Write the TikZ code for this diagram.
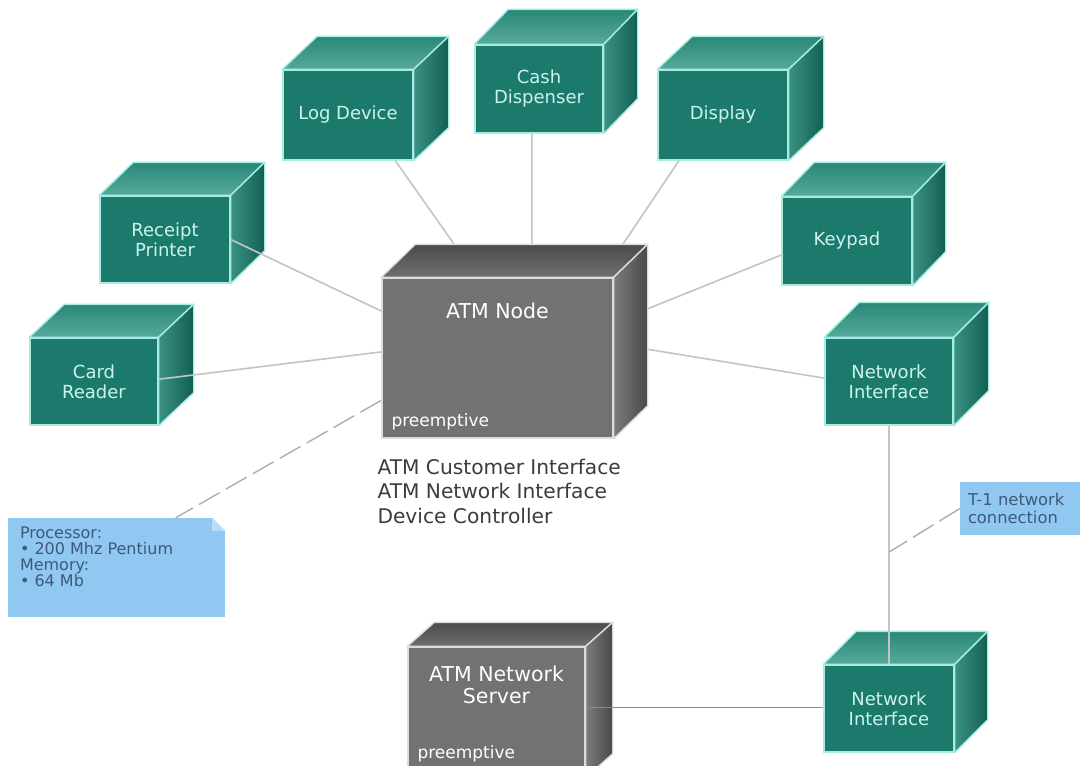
\documentclass[tikz,border=0pt]{standalone}
\usepackage{fontspec}
\setmainfont{DejaVu Sans}
\usepackage{xcolor}
\usepackage{tikz}
\usetikzlibrary{calc,positioning}
\pgfdeclarelayer{front}
\pgfsetlayers{main,front}

\definecolor{tealfront}{HTML}{1B7A6C}
\definecolor{tealtopback}{HTML}{2A8777}
\definecolor{tealtopfront}{HTML}{56AA9B}
\definecolor{tealsidefront}{HTML}{3A9282}
\definecolor{tealsideback}{HTML}{125F53}
\definecolor{tealedge}{HTML}{A6ECE2}
\definecolor{teallabel}{HTML}{CBF3EC}
\definecolor{grayfront}{HTML}{727272}
\definecolor{graytopback}{HTML}{4A4A4A}
\definecolor{graytopfront}{HTML}{707070}
\definecolor{graysidefront}{HTML}{7C7C7C}
\definecolor{graysideback}{HTML}{484848}
\definecolor{grayedge}{HTML}{DCDCDC}
\definecolor{linkgray}{HTML}{C4C4C4}
\definecolor{serverlink}{HTML}{8A8A8A}
\definecolor{dashgray}{HTML}{ADADAD}
\definecolor{notefill}{HTML}{90C8F2}
\definecolor{notefold}{HTML}{BCDDF6}
\definecolor{noteink}{HTML}{3D5A78}
\definecolor{partsink}{HTML}{3C3C3C}

% top and side faces of a box whose front face is node #1
\newcommand{\boxfaces}[4]{%
  \path[draw=#4edge, line width=1.4pt, line join=round,
        top color=#4topback, bottom color=#4topfront]
    (#1.north west) -- ++(#2,-#3) -- ($(#1.north east)+(#2,-#3)$)
    -- (#1.north east) -- cycle;
  \path[draw=#4edge, line width=1.4pt, line join=round,
        left color=#4sidefront, right color=#4sideback]
    (#1.north east) -- ++(#2,-#3) -- ($(#1.south east)+(#2,-#3)$)
    -- (#1.south east) -- cycle;
}

\begin{document}
\begin{tikzpicture}[x=1pt,y=-1pt,
  tealbox/.style={draw=tealedge, fill=tealfront, line width=1.4pt, inner sep=0pt,
    text=teallabel, align=center, font=\fontsize{18}{20}\selectfont},
  graybox/.style={draw=grayedge, fill=grayfront, line width=1.4pt, inner sep=0pt},
  graytitle/.style={text=white, align=center, font=\fontsize{20.5}{22}\selectfont},
  graytag/.style={text=white, anchor=west, inner sep=0pt, font=\fontsize{17}{19}\selectfont},
  link/.style={draw=linkgray, line width=1.6pt},
  notelink/.style={draw=dashgray, line width=1.4pt, dash pattern=on 24pt off 7pt},
  notebox/.style={fill=notefill},
  notetext/.style={text=noteink, align=left, inner sep=0pt, font=\fontsize{16}{15.8}\selectfont},
  partstext/.style={text=partsink, align=left, inner sep=0pt, font=\fontsize{20.2}{24.5}\selectfont}]
		\useasboundingbox (0,0) rectangle (1088,766);
		\clip (0,0) rectangle (1088,766);
		\fill[white] (0,0) rectangle (1088,766);
		%
		% notes
		\node[notebox, minimum width=217, minimum height=99] (spec) at (116.5,567.5) {};
		\fill[white] (spec.north east) -- ++(-13,0) -- ++(13,13) -- cycle;
		\fill[notefold] ($(spec.north east)+(-13,0)$) -- ++(0,13) -- ++(13,0) -- cycle;
		\node[notetext, anchor=north west] (spectext) at ($(spec.north west)+(12,9)$)
			{Processor:\\• 200 Mhz Pentium\\Memory:\\• 64 Mb};
		\node[notebox, notetext, text width=104, inner xsep=8, minimum height=53,
			font=\fontsize{16.3}{18}\selectfont] (t1note) at (1020,508.5) {T-1 network\\connection};
		%
		% devices
		\node[tealbox, minimum width=128, minimum height=87] (card) at (94,381.5) {Card\\Reader};
		\boxfaces{card}{35}{33}{teal}
		\node[tealbox, minimum width=130, minimum height=87] (receipt) at (165,239.5) {Receipt\\Printer};
		\boxfaces{receipt}{34}{33}{teal}
		\node[tealbox, minimum width=130, minimum height=90] (log) at (348,115) {Log Device};
		\boxfaces{log}{35}{33}{teal}
		\node[tealbox, minimum width=128, minimum height=88] (cash) at (539,89) {Cash\\Dispenser};
		\boxfaces{cash}{34}{35}{teal}
		\node[tealbox, minimum width=130, minimum height=90] (disp) at (723,115) {Display};
		\boxfaces{disp}{35}{33}{teal}
		\node[tealbox, minimum width=130, minimum height=88] (key) at (847,241) {Keypad};
		\boxfaces{key}{33}{34}{teal}
		\node[tealbox, minimum width=128, minimum height=87] (net1) at (889,381.5) {Network\\Interface};
		\boxfaces{net1}{35}{35}{teal}
		\node[tealbox, minimum width=130, minimum height=87] (net2) at (889,708.5) {Network\\Interface};
		\boxfaces{net2}{33}{33}{teal}
		%
		\node[graybox, minimum width=177, minimum height=130] (server) at (496.5,712) {};
		\boxfaces{server}{27}{24}{gray}
		\node[graytitle] (servertitle) at ($(server.north)+(0,39)$) {ATM Network\\Server};
		\node[graytag] (servertag) at ($(server.north west)+(10,108)$) {preemptive};
		%
		\begin{pgfonlayer}{front}
		\node[graybox, minimum width=231, minimum height=160] (atm) at (497.5,358) {};
		\boxfaces{atm}{34}{33}{gray}
		\node[graytitle] (atmtitle) at ($(atm.north)+(0,34)$) {ATM Node};
		\node[graytag] (atmtag) at ($(atm.south west)+(10,-17)$) {preemptive};
		\end{pgfonlayer}
		\node[partstext, anchor=north west] (atmparts) at ($(atm.south west)+(-4,20)$)
			{ATM Customer Interface\\ATM Network Interface\\Device Controller};
		%
		% connections
		\coordinate (t1foot) at ($(net1.south)!0.53!(net2.north)$);
		\path[link]
		(card.2) edge (atm.177)
		(receipt.east) edge (atm.158)
		(log.-44) edge (atm.104)
		(cash.-99) edge (atm.67)
		(disp.-134) edge (atm.38)
		(key.192) edge (atm.17)
		(net1.177) edge (atm.7)
		(net1.south) edge (net2.north);
		\draw[link, draw=serverlink] (server.3) -- (server.3 -| net2.west);
		\path[notelink]
		(atm.200) edge (spec.40)
		(t1note.west) edge (t1foot);
		\end{tikzpicture}
\end{document}
